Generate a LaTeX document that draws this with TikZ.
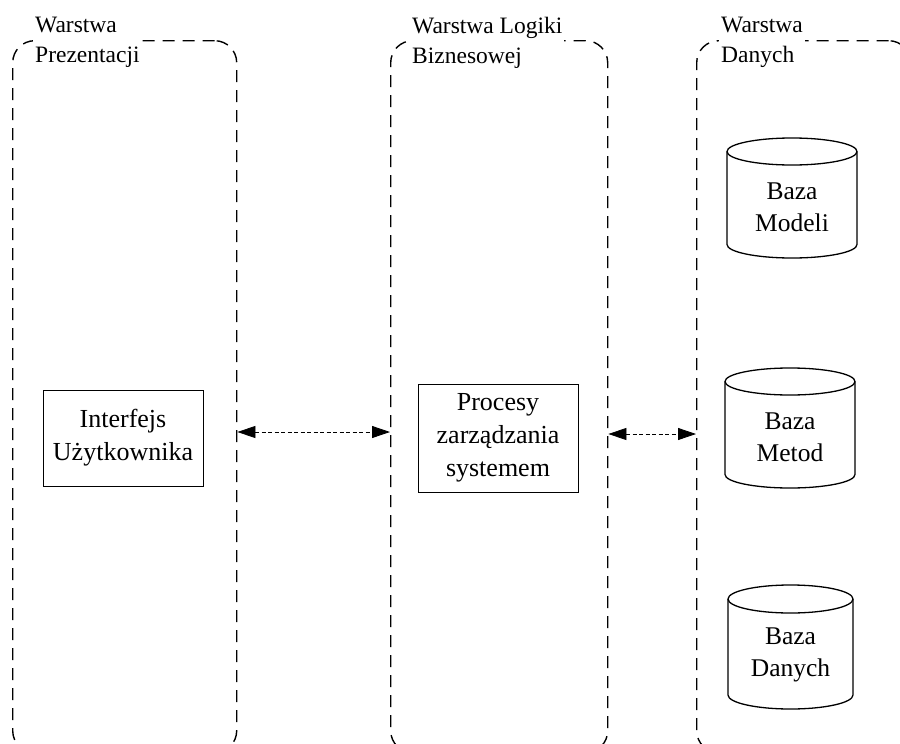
\documentclass[tikz,border=0pt]{standalone}
\usepackage{fontspec}
\setmainfont{Liberation Serif}
\usetikzlibrary{arrows.meta}

\tikzset{
  layer/.style={draw, line width=1.4pt, dash pattern=on 12pt off 8pt,
    rounded corners=22pt, anchor=north west, inner sep=0pt},
  layertitle/.style={fill=white, anchor=north west, inner sep=2pt, align=left,
    font=\fontsize{23.5}{30}\selectfont},
  procbox/.style={draw, line width=0.9pt, align=center, inner sep=0pt,
    font=\fontsize{26}{33}\selectfont},
  dbtext/.style={align=center, inner sep=0pt, font=\fontsize{25.5}{32}\selectfont},
  dbshape/.style={line width=1.3pt},
  conn/.style={line width=0.8pt, dash pattern=on 4pt off 2.5pt,
    {Triangle[length=18pt,width=12pt]}-{Triangle[length=18pt,width=12pt]}},
}

% Draws a database cylinder: left x, top y, width, height, half-height of the caps
\newcommand{\dbcyl}[5]{%
  \draw[dbshape] ({#1+#3/2},{#2+#5}) ellipse [x radius={#3/2*1pt}, y radius={#5*1pt}];
  \draw[dbshape] (#1,{#2+#5}) -- (#1,{#2+#4-#5})
    arc[start angle=180, end angle=360, x radius={#3/2*1pt}, y radius={#5*1pt}]
    -- ({#1+#3},{#2+#5});
}

\begin{document}
\begin{tikzpicture}[x=1pt, y=-1pt]
  \useasboundingbox (0,0) rectangle (900,744);

  % the three layers
  \node[layer, minimum width=224pt, minimum height=712pt] (L1) at (12,40) {};
  \node[layer, minimum width=217pt, minimum height=712pt] (L2) at (390,40) {};
  \node[layer, minimum width=214pt, minimum height=712pt] (L3) at (696,40) {};

  \node[layertitle] (T1) at (33,15) {Warstwa\\Prezentacji};
  \node[layertitle] (T2) at (410,15) {Warstwa Logiki\\Biznesowej};
  \node[layertitle] (T3) at (719,15) {Warstwa\\Danych};

  % presentation and business logic
  \node[procbox, minimum width=160pt, minimum height=96pt] (ui) at (123,438)
    {Interfejs\\U\.zytkownika};
  \node[procbox, minimum width=160pt, minimum height=108pt] (proc) at (498,438)
    {Procesy\\zarządzania\\systemem};

  % data stores
  \dbcyl{727}{138}{130}{120}{13.5}
  \node[dbtext] (db1) at (792,207) {Baza\\Modeli};
  \dbcyl{725}{368}{130}{120}{13.5}
  \node[dbtext] (db2) at (790,437) {Baza\\Metod};
  \dbcyl{728}{585}{125}{124}{14}
  \node[dbtext] (db3) at (790.5,655) {Baza\\Danych};

  % links between layers
  \draw[conn] (L1.east |- 0,432) -- (L2.west |- 0,432);
  \draw[conn] (L2.east |- 0,434) -- (L3.west |- 0,434);
\end{tikzpicture}
\end{document}
